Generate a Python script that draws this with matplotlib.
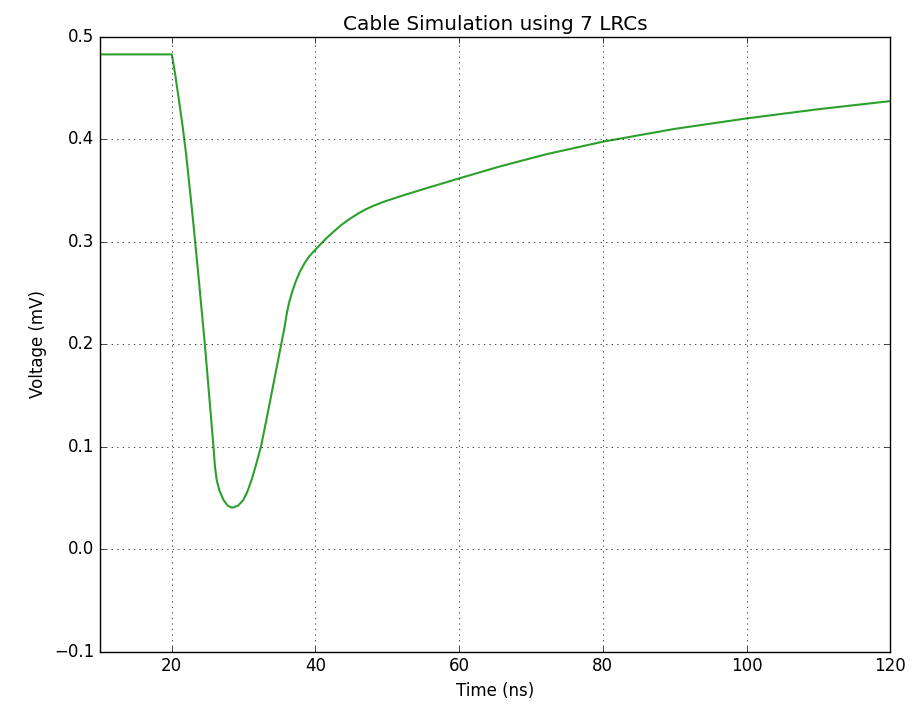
import matplotlib
matplotlib.use("Agg")
import matplotlib.pyplot as plt
import numpy as np

plt.style.use("classic")

# voltage
time_ns = [10, 20, 20.2, 20.5, 21.0, 21.5, 22.0, 22.5, 23.0, 23.5, 24.0, 24.6,
           25.2, 25.8, 26.0, 26.25, 26.6, 27.2, 27.8, 28.4, 29.2, 29.95, 30.5,
           31.1, 31.7, 32.4, 33.1, 33.8, 34.5, 35.2, 35.7, 36.0, 36.3, 36.7,
           37.2, 37.8, 38.5, 39.2, 40, 40.8, 41.5, 42.45, 43.5, 44.77, 46.0,
           47.08, 48.2, 49.4, 51.7, 54, 56.3, 60, 65.6, 72.1, 80, 90, 100,
           110, 120]
voltage = [0.483, 0.483, 0.475, 0.462, 0.438, 0.413, 0.385, 0.352, 0.318, 0.282,
           0.245, 0.200, 0.150, 0.100, 0.081, 0.0676, 0.058, 0.048, 0.0425,
           0.0406, 0.0425, 0.048, 0.056, 0.0676, 0.082, 0.100, 0.124, 0.149,
           0.174, 0.199, 0.217, 0.230, 0.240, 0.250, 0.2605, 0.2705, 0.2795,
           0.2865, 0.2925, 0.2985, 0.3035, 0.3095, 0.3160, 0.3225, 0.3280,
           0.3321, 0.3356, 0.3389, 0.3443, 0.3493, 0.3542, 0.3620, 0.3735,
           0.3855, 0.3978, 0.4103, 0.4205, 0.4295, 0.4374]

fig = plt.figure(figsize=(9.13, 7.11), facecolor="white")
ax = fig.add_axes([0.1095, 0.0833, 0.8655, 0.8647])

ax.plot(time_ns, voltage, color="#2ca02c", linewidth=1.5)

ax.set_xlim(10, 120)
ax.set_ylim(-0.1, 0.5)
ax.set_xticks([20, 40, 60, 80, 100, 120])
ax.set_yticks(np.arange(-0.1, 0.51, 0.1))
ax.grid(True)

ax.set_title("Cable Simulation using 7 LRCs")
ax.set_xlabel("Time (ns)")
ax.set_ylabel("Voltage (mV)")

fig.savefig("out.png", dpi=100, facecolor="white")
